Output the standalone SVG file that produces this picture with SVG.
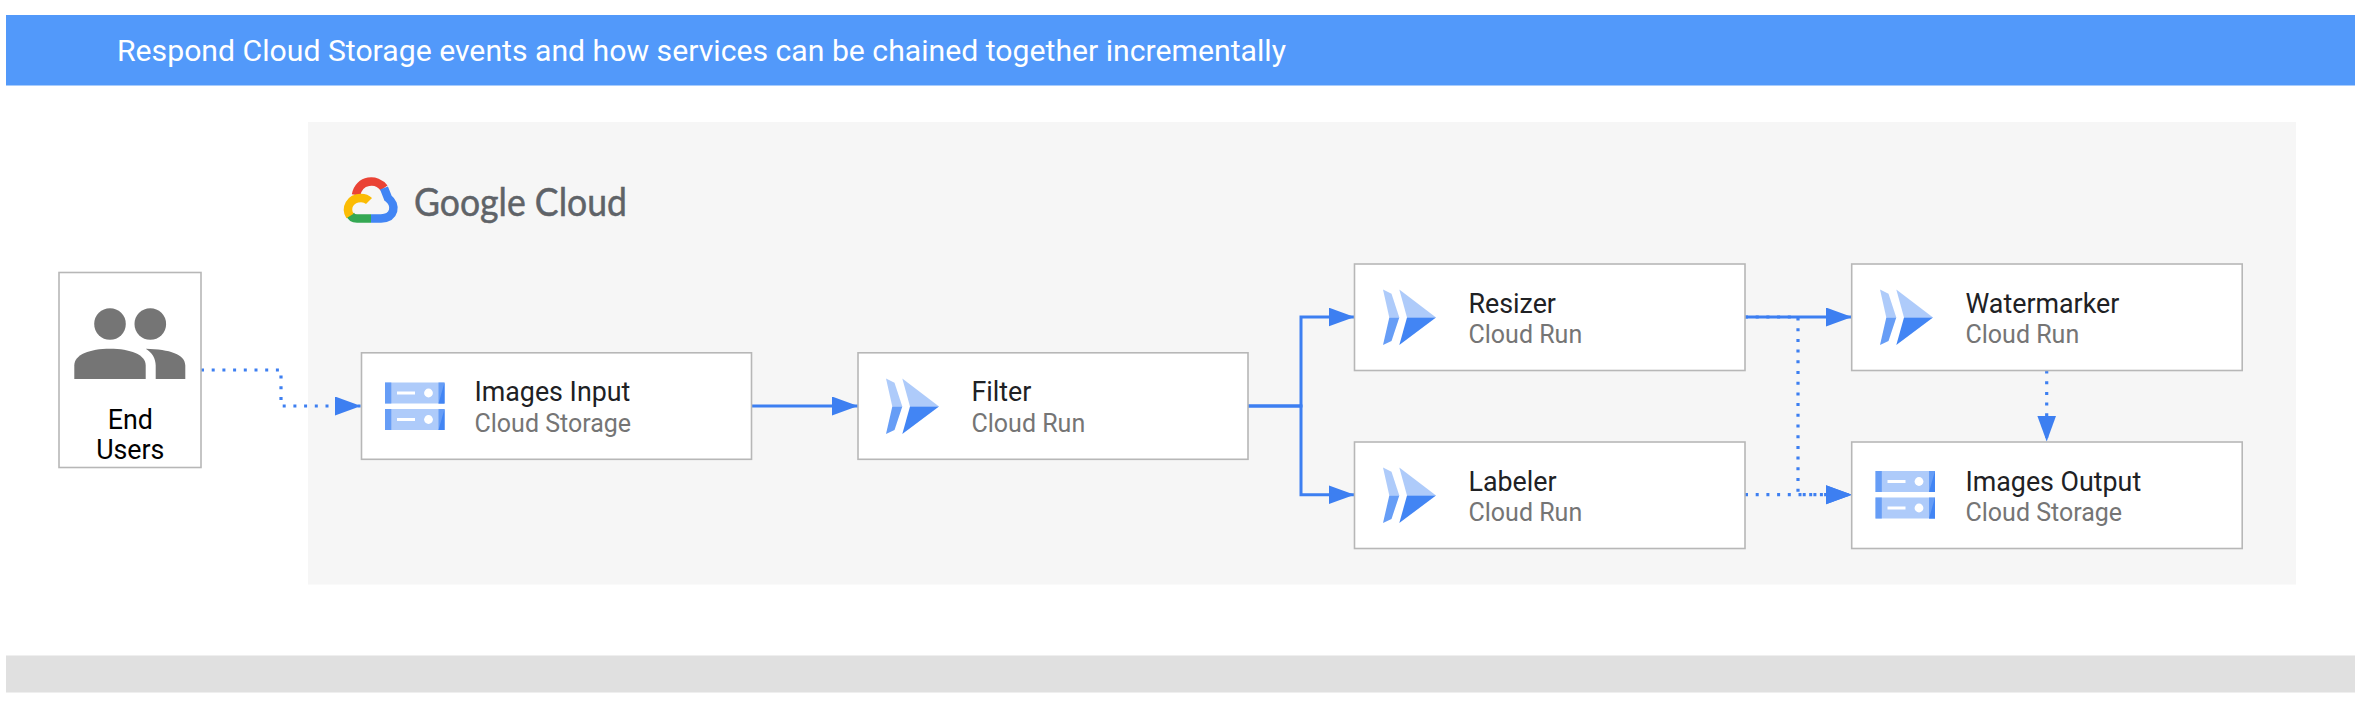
<svg xmlns="http://www.w3.org/2000/svg" width="2361" height="709" viewBox="0 0 2361 709">
<style>
.box{fill:#fff;stroke:#b7b7b7;stroke-width:1.6}
.t{font-family:Roboto,"Liberation Sans",sans-serif;font-size:26.8px;fill:#202124}
.s{font-family:Roboto,"Liberation Sans",sans-serif;font-size:25px;fill:#757575}
.c{fill:none;stroke:#3d7ff1;stroke-width:3;stroke-linejoin:miter}
.d{stroke-width:3.2;stroke-dasharray:3 7.7}
.l{fill:#aecbfa}.m{fill:#669df6}.k{fill:#4285f4}
</style>
<defs>
<marker id="a" markerUnits="userSpaceOnUse" markerWidth="27" markerHeight="20" refX="26" refY="9.5" orient="auto"><path d="M0 0L26 9.5L0 19z" fill="#3d7ff1"/></marker>
<g id="run">
<path class="l" d="M0 0L8.5 4.3L16.3 28H6.3z"/>
<path class="m" d="M6.300 28H16.300L8.500 51.500L0 55.500z"/>
<path class="l" d="M16.300 0L53 28H24z"/>
<path class="k" d="M24 28H53L16.300 55.500z"/>
</g>
<g id="gcs">
<g id="gcs1"><rect class="l" width="59.500" height="21"/><rect class="m" width="6.300" height="21"/><path class="m" d="M53.500 0H59.500V21H53.500z"/><path class="k" d="M59.500 0V21H53.500z"/><rect x="12" y="9" width="18" height="3" fill="#fff"/><circle cx="43.500" cy="10.500" r="4.400" fill="#fff"/></g>
<use href="#gcs1" y="26.500"/>
</g>
</defs>
<g id="header"><rect x="6" y="15" width="2349" height="70.500" fill="#5299fa"/><text x="117" y="61" font-family="Roboto,'Liberation Sans',sans-serif" font-size="30.200px" fill="#fff">Respond Cloud Storage events and how services can be chained together incrementally</text></g>
<rect id="cloud-zone" x="308" y="122" width="1988" height="462.500" fill="#f6f6f6"/>
<rect id="footer" x="6" y="655.500" width="2349" height="37" fill="#e0e0e0"/>
<g id="google-cloud-logo" fill="none" stroke-width="8.500">
<path stroke="#ea4335" d="M356 195C359 179 377 178 384 188"/>
<path stroke="#4285f4" d="M384 188L388 198C397 205 395 218 381 218.500H371"/>
<path stroke="#34a853" d="M371 218.500H357C354 218.500 351 217 350 214"/>
<path stroke="#fbbc04" d="M350 216C345 208 350 198 361 198C364 198 367 199 369 201"/>
<text x="414" y="216" font-family="Lato,'Liberation Sans',sans-serif" font-size="39px" fill="#5f6368" stroke="#5f6368" stroke-width=".5" textLength="213" lengthAdjust="spacingAndGlyphs">Google Cloud</text>
</g>
<g id="connectors">
<path class="c d" marker-end="url(#a)" d="M201 370H281V406H361"/>
<path class="c" marker-end="url(#a)" d="M751 406H858"/>
<path class="c" marker-end="url(#a)" d="M1248 406H1301V317H1354.500"/>
<path class="c" marker-end="url(#a)" d="M1248 406H1301V494.700H1354.500"/>
<path class="c" marker-end="url(#a)" d="M1745 317H1852"/>
<path class="c d" d="M1745 317H1798V494.700H1852" marker-end="url(#a)"/>
<path class="c d" marker-end="url(#a)" d="M1745 494.700H1852"/>
<path class="c d" marker-end="url(#a)" d="M2046.700 370.500V441.500"/>
</g>
<g id="end-users"><rect class="box" x="59" y="272.500" width="142" height="195"/>
<circle cx="110" cy="324" r="15.800" fill="#757575"/><circle cx="150.300" cy="324" r="15.800" fill="#757575"/>
<path fill="#757575" d="M74.300 379V365.500C74.300 354.500 90 348.800 110 348.800S145.700 354.500 145.700 365.500V379z"/>
<path fill="#757575" d="M145.700 348.800C170 349.300 185.300 354.500 185.300 365.500V379H155.700V365.500C155.700 358.500 152 352.500 145.700 348.800z"/>
<text x="130.300" y="428.500" text-anchor="middle" class="t" style="fill:#000">End</text><text x="130.300" y="458.500" text-anchor="middle" class="t" style="fill:#000">Users</text></g>
<g id="images-input"><rect class="box" x="361.500" y="352.800" width="390" height="106.500"/><use href="#gcs" x="385" y="382.500"/><text class="t" x="474.500" y="401">Images Input</text><text class="s" x="474.500" y="432">Cloud Storage</text></g>
<g id="filter"><rect class="box" x="858" y="352.800" width="390" height="106.500"/><use href="#run" x="886" y="378.500"/><text class="t" x="971.500" y="401">Filter</text><text class="s" x="971.500" y="432">Cloud Run</text></g>
<g id="resizer"><rect class="box" x="1354.500" y="264" width="390.500" height="106.500"/><use href="#run" x="1383" y="289.500"/><text class="t" x="1468.500" y="312.500">Resizer</text><text class="s" x="1468.500" y="343">Cloud Run</text></g>
<g id="labeler"><rect class="box" x="1354.500" y="442" width="390.500" height="106.500"/><use href="#run" x="1383" y="467.500"/><text class="t" x="1468.500" y="490.500">Labeler</text><text class="s" x="1468.500" y="521">Cloud Run</text></g>
<g id="watermarker"><rect class="box" x="1851.700" y="264" width="390.500" height="106.500"/><use href="#run" x="1880" y="289.500"/><text class="t" x="1965.500" y="312.500">Watermarker</text><text class="s" x="1965.500" y="343">Cloud Run</text></g>
<g id="images-output"><rect class="box" x="1851.700" y="442" width="390.500" height="106.500"/><use href="#gcs" x="1875.500" y="471"/><text class="t" x="1965.500" y="490.500">Images Output</text><text class="s" x="1965.500" y="521">Cloud Storage</text></g>
</svg>
